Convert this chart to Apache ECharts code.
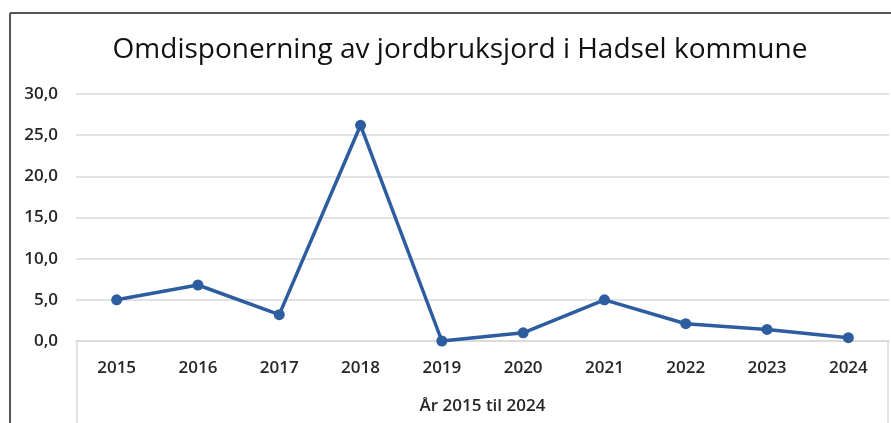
<!DOCTYPE html>
<html>
<head>
<meta charset="utf-8">
<script src="https://cdn.jsdelivr.net/npm/echarts@6/dist/echarts.min.js"></script>
<style>
  html, body { margin: 0; padding: 0; background: #fff; }
  #chart { width: 891px; height: 423px; }
</style>
</head>
<body>
<div id="chart"></div>
<script>
const titleText = "Omdisponerning av jordbruksjord i Hadsel kommune";
const axisTitle = "År 2015 til 2024";
const years = ["2015", "2016", "2017", "2018", "2019", "2020", "2021", "2022", "2023", "2024"];
const values = [5.0, 6.8, 3.2, 26.2, 0.0, 1.0, 5.0, 2.1, 1.4, 0.4];

const lineColor = "#2e5d9f";
const textColor = "#262626";
const font = "Open Sans";

const chart = echarts.init(document.getElementById("chart"), null, { renderer: "canvas" });

chart.setOption({
  backgroundColor: "#fff",
  animation: false,
  title: {
    text: titleText,
    left: 455,
    textAlign: "center",
    top: 31,
    textStyle: { fontFamily: font, fontSize: 28, fontWeight: 500, color: "#111" },
  },
  grid: { left: 76, right: 2, top: 94, bottom: 82 },
  xAxis: {
    type: "category",
    data: years,
    boundaryGap: true,
    name: axisTitle,
    nameLocation: "middle",
    nameGap: 57,
    nameTextStyle: { fontFamily: font, fontSize: 17, fontWeight: 600, color: textColor },
    axisLine: { lineStyle: { color: "#d9d9d9", width: 1.5 } },
    axisTick: { show: false },
    axisLabel: { fontFamily: font, fontSize: 17, fontWeight: 600, color: textColor, margin: 19 },
  },
  yAxis: {
    type: "value",
    min: 0,
    max: 30,
    interval: 5,
    axisLine: { show: false },
    axisTick: { show: false },
    splitLine: { lineStyle: { color: "#d9d9d9", width: 1.5 } },
    axisLabel: {
      fontFamily: font,
      fontSize: 17,
      fontWeight: 600,
      color: textColor,
      margin: 18,
      formatter: (v) => v.toFixed(1).replace(".", ","),
    },
  },
  series: [
    {
      type: "line",
      data: values,
      symbol: "circle",
      symbolSize: 11,
      lineStyle: { color: lineColor, width: 3.5 },
      itemStyle: { color: lineColor },
    },
  ],
  graphic: [
    // outer frame (top and left edges visible)
    { type: "line", shape: { x1: 10, y1: 13, x2: 891, y2: 13 }, style: { stroke: "#555", lineWidth: 2 } },
    { type: "line", shape: { x1: 10, y1: 13, x2: 10, y2: 423 }, style: { stroke: "#555", lineWidth: 2 } },
    // category label box sides
    { type: "line", shape: { x1: 77, y1: 341, x2: 77, y2: 423 }, style: { stroke: "#d9d9d9", lineWidth: 1.5 } },
    { type: "line", shape: { x1: 888, y1: 341, x2: 888, y2: 423 }, style: { stroke: "#d9d9d9", lineWidth: 1.5 } },
  ],
});
</script>
</body>
</html>
